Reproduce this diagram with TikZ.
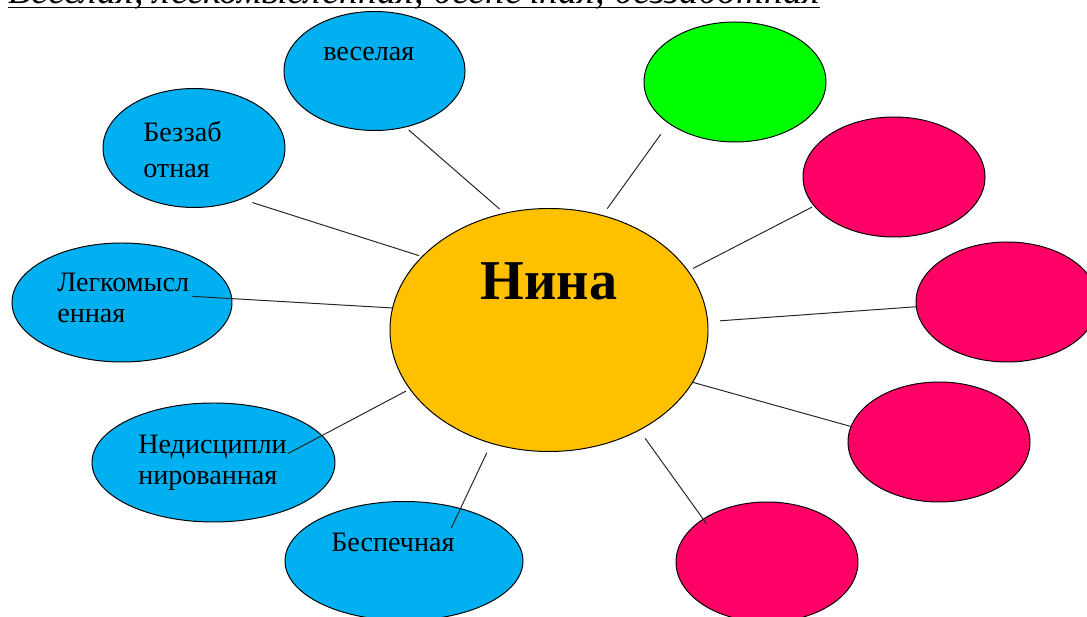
\documentclass[tikz,border=0pt]{standalone}
\usepackage{fontspec}
\setmainfont{Liberation Serif}
\usepackage{xcolor}
\usepackage{tikz}
\usetikzlibrary{shapes.geometric}
\definecolor{skyblue}{HTML}{00B0F0}
\definecolor{amber}{HTML}{FFC000}
\definecolor{lime}{HTML}{00FF00}
\definecolor{crimson}{HTML}{FF0066}
\newcommand{\ulinetext}[1]{\setbox0\hbox{#1}\rlap{\rule[-3.2pt]{\wd0}{1.4pt}}\box0}
\tikzset{
	% The big ellipse in the middle
	centre/.style={
		draw=black,ellipse,fill=amber,line width=0.7pt,inner sep=0pt,
		minimum width=7.95cm,minimum height=6.075cm
	},
	% The traits that are already written
	trait/.style={
		draw=black,ellipse,fill=skyblue,line width=0.7pt,inner sep=0pt,
		minimum height=2.975cm
	},
	% The empty green one
	open_green/.style={
		draw=black,ellipse,fill=lime,line width=0.7pt,inner sep=0pt,
		minimum width=4.55cm,minimum height=3cm
	},
	% The empty red ones
	open_red/.style={
		draw=black,ellipse,fill=crimson,line width=0.7pt,inner sep=0pt,
		minimum width=4.55cm,minimum height=3cm
	},
	% The words in the ellipses (base is the last line)
	word/.style={
		anchor=base west,inner sep=0pt,align=left,font=\fontsize{20}{22.5}\selectfont
	},
	% The lines from the middle
	spoke/.style={
		draw=black!85,line width=0.7pt
	},
}

\begin{document}
\begin{tikzpicture}
		\useasboundingbox (0,0) rectangle (27.175,15.425);

		\node [word,font=\fontsize{27.2}{30}\selectfont\itshape] (Heading) at (0.2,15.325) {\ulinetext{Веселая, легкомысленная, беспечная, беззаботная}};

		\node [centre] (Nina) at (13.725,7.175) {};

		% Blue ones
		\node [trait,minimum width=4.525cm] (Veselaya) at (9.3625,13.65) {};
		\node [trait,minimum width=4.55cm] (Bezzabotnaya) at (4.85,11.725) {};
		\node [trait,minimum width=5.5cm] (Legkomyslennaya) at (3.05,7.8625) {};
		\node [trait,minimum width=6.075cm] (Nedisciplinirovannaya) at (5.3375,3.8625) {};
		\node [trait,minimum width=5.95cm] (Bespechnaya) at (10.1,1.4) {};

		% Empty ones
		\node [open_green] (Green) at (18.375,13.375) {};
		\node [open_red] (Red one) at (22.35,11.0) {};
		\node [open_red] (Red two) at (25.175,7.875) {};
		\node [open_red] (Red three) at (23.475,4.375) {};
		\node [open_red] (Red four) at (19.175,1.375) {};

		% Words
		\node [word,anchor=base,font=\fontsize{40}{48}\selectfont\bfseries] (Nina text) at (13.725,7.925) {Нина};
		\node [word] (Veselaya text) at (8.075,13.9) {веселая};
		\node [word,font=\fontsize{20}{25.3}\selectfont] (Bezzabotnaya text) at (3.575,10.99) {Беззаб\\отная};
		\node [word] (Legkomyslennaya text) at (1.425,7.35) {Легкомысл\\енная};
		\node [word] (Nedisciplinirovannaya text) at (3.45,3.3) {Недисципли\\нированная};
		\node [word] (Bespechnaya text) at (8.275,1.6325) {Беспечная};

		% Spokes
		\draw [spoke,shorten <=0.15cm,shorten >=0.1cm] (Nina.111.5) -- (Veselaya.-61.9);
		\draw [spoke,shorten <=0.075cm,shorten >=0.28cm] (Nina.150.9) -- (Bezzabotnaya.-47.5);
		\draw [spoke,shorten >=-1cm] (Nina.172.4) -- (Legkomyslennaya.2.9);
		\draw [spoke,shorten <=0.1cm,shorten >=-0.975cm] (Nina.203.6) -- (Nedisciplinirovannaya.14.9);
		\draw [spoke,shorten <=0.25cm,shorten >=-0.55cm] (Nina.-117.3) -- (Bespechnaya.43.5);
		\draw [spoke,shorten <=0.2cm,shorten >=0.33cm] (Nina.65.3) -- (Green.212.8);
		\draw [spoke,shorten <=0.125cm,shorten >=0.05cm] (Nina.23.9) -- (Red one.200.9);
		\draw [spoke,shorten <=0.3cm] (Nina.3.7) -- (Red two.183.2);
		\draw [spoke] (Nina.-20.1) -- (Red three.170.4);
		\draw [spoke,shorten <=0.24cm,shorten >=-0.15cm] (Nina.-48.7) -- (Red four.146.1);
	\end{tikzpicture}
\end{document}
